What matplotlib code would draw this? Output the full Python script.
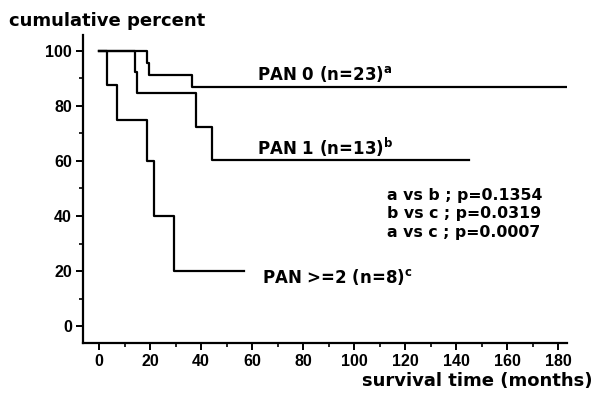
import matplotlib
matplotlib.use("Agg")
import matplotlib.pyplot as plt
from matplotlib.ticker import MultipleLocator

# Step-function data (time in months, cumulative percent)
pan0_t = [0, 18.6, 19.6, 36.6, 183]
pan0_s = [100, 95.7, 91.3, 87.0, 87.0]
pan1_t = [0, 14.1, 14.7, 38.1, 44.3, 145]
pan1_s = [100, 92.3, 84.6, 72.5, 60.4, 60.4]
pan2_t = [0, 3.0, 6.9, 18.6, 21.5, 29.4, 57]
pan2_s = [100, 87.5, 75.0, 60.0, 40.0, 20.0, 20.0]

labels = ["PAN 0 (n=23)", "PAN 1 (n=13)", "PAN >=2 (n=8)"]
sups = ["a", "b", "c"]
pvals = ["a vs b ; p=0.1354", "b vs c ; p=0.0319", "a vs c ; p=0.0007"]
xticks = [0, 20, 40, 60, 80, 100, 120, 140, 160, 180]
yticks = [0, 20, 40, 60, 80, 100]

plt.rcParams['mathtext.fontset'] = 'custom'
plt.rcParams['mathtext.bf'] = 'DejaVu Sans:bold'
plt.rcParams['mathtext.rm'] = 'DejaVu Sans:bold'

fig = plt.figure(figsize=(6.02, 3.93), dpi=100)
ax = fig.add_axes([0.138, 0.127, 0.804, 0.784])

for t, s in [(pan0_t, pan0_s), (pan1_t, pan1_s), (pan2_t, pan2_s)]:
    ax.step(t, s, where='post', color='black', lw=1.6)

ax.set_xlim(-6.3, 183.5)
ax.set_ylim(-6.2, 105.8)
ax.spines['top'].set_visible(False)
ax.spines['right'].set_visible(False)
for sp in ['left', 'bottom']:
    ax.spines[sp].set_linewidth(1.6)

ax.set_xticks(xticks)
ax.set_yticks(yticks)
ax.xaxis.set_minor_locator(MultipleLocator(10))
ax.yaxis.set_minor_locator(MultipleLocator(10))
ax.tick_params(which='major', length=5, width=1.4, direction='out', pad=3)
ax.tick_params(which='minor', length=3, width=1.2, direction='out')
for lab in ax.get_xticklabels() + ax.get_yticklabels():
    lab.set_fontfamily('Liberation Sans')
    lab.set_fontweight('bold')
    lab.set_fontsize(11.5)

label_pos = [(62, 91.6), (62, 65), (63.7, 17.8)]
for (x, y), lab, sup in zip(label_pos, labels, sups):
    ax.text(x, y, lab + r"$^{\mathbf{" + sup + "}}$", fontsize=12,
            fontweight='bold', family='DejaVu Sans', va='center', ha='left')

for i, p in enumerate(pvals):
    ax.text(113, 47.6 - i * 6.8, p, fontsize=11.3, fontweight='bold',
            family='DejaVu Sans', va='center', ha='left')

fig.text(9 / 602, 1 - 21 / 393, "cumulative percent", fontsize=13,
         fontweight='bold', family='DejaVu Sans', va='center', ha='left')
fig.text(593 / 602, 1 - 381 / 393, "survival time (months)", fontsize=13,
         fontweight='bold', family='DejaVu Sans', va='center', ha='right')

fig.savefig("out.png", dpi=100)
